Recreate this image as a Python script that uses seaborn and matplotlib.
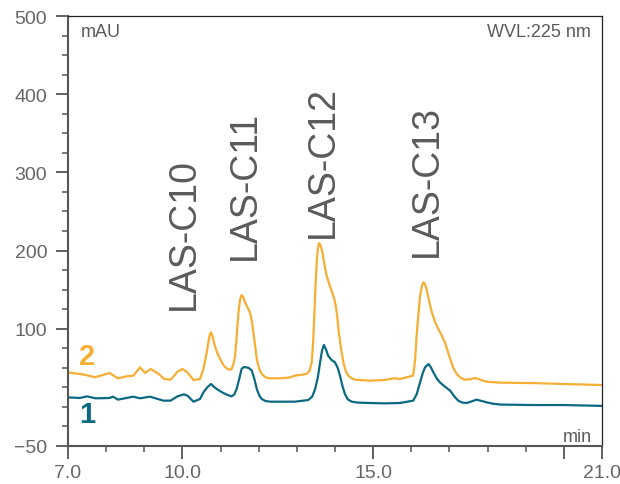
import matplotlib
matplotlib.use("Agg")
import matplotlib.pyplot as plt
from matplotlib.ticker import MultipleLocator, FixedLocator, FixedFormatter
import seaborn as sns
import pandas as pd

# Retention time (min) and absorbance (mAU) of the two chromatograms
time_2 = [7.00, 7.31, 7.48, 7.70, 7.92, 8.09, 8.31, 8.53, 8.71, 8.89, 9.02, 9.17,
          9.38, 9.52, 9.69, 9.87, 10.00, 10.13, 10.29, 10.46,
          10.55, 10.62, 10.68, 10.72, 10.75, 10.79, 10.85, 10.92, 10.99, 11.08,
          11.16, 11.24, 11.29, 11.34, 11.38, 11.43, 11.47, 11.51, 11.55, 11.59,
          11.64, 11.70, 11.77, 11.82, 11.86, 11.91, 11.95, 12.01, 12.08, 12.16,
          12.25, 12.56, 12.80, 12.95,
          13.26, 13.34, 13.39, 13.43, 13.46, 13.49, 13.52, 13.55, 13.58, 13.62,
          13.67, 13.72, 13.78, 13.85, 13.91, 13.97, 14.02, 14.06, 14.09, 14.15,
          14.22, 14.28, 14.35, 14.44, 14.53, 14.92, 15.30, 15.55, 15.70,
          16.05, 16.10, 16.14, 16.19, 16.23, 16.28, 16.32, 16.36, 16.40, 16.47,
          16.54, 16.62, 16.71, 16.80, 16.88, 16.95, 17.02, 17.10, 17.19, 17.30,
          17.41, 17.55, 17.65, 17.71, 17.85, 17.98, 18.33, 19.20, 20.00, 21.00]
mau_2 = [44.2, 42.1, 40.8, 37.9, 40.8, 43.4, 36.6, 39.1, 39.9, 50.6, 43.4, 48.5,
         42.1, 35.7, 34.8, 45.0, 48.5, 44.2, 34.4, 35.7,
         48.5, 65.0, 82.6, 93.0, 95.4, 90.0, 78.0, 68.0, 61.3, 53.0,
         49.3, 47.5, 48.5, 55.0, 65.5, 95.0, 121.0, 137.0, 143.1, 141.0,
         133.8, 128.0, 121.0, 110.0, 95.4, 77.0, 61.3, 49.0, 42.1, 38.5,
         36.6, 36.6, 37.5, 40.0,
         42.1, 47.0, 57.0, 85.0, 121.0, 155.0, 185.0, 202.0, 209.6, 207.0,
         197.6, 183.0, 167.8, 157.0, 148.6, 140.0, 129.5, 115.0, 99.6, 77.0,
         57.0, 46.0, 40.0, 36.5, 34.8, 33.5, 34.5, 36.6, 35.7,
         40.0, 60.0, 91.0, 120.0, 142.0, 155.0, 159.4, 157.0, 150.8, 135.0,
         121.0, 109.0, 99.6, 91.0, 82.6, 72.0, 61.3, 50.0, 42.1, 37.0,
         34.8, 35.5, 36.7, 36.6, 34.0, 32.2, 31.0, 30.5, 29.3, 28.0]

time_1 = [7.00, 7.31, 7.50, 7.72, 8.09, 8.18, 8.31, 8.71, 8.89, 9.15, 9.50, 9.69,
          9.87, 10.04, 10.13, 10.29, 10.46,
          10.55, 10.65, 10.75, 10.82, 10.90, 11.07, 11.20, 11.29, 11.36, 11.42,
          11.49, 11.55, 11.61, 11.68, 11.75, 11.82, 11.89, 11.95, 12.02, 12.08,
          12.18, 12.30, 12.56, 12.95,
          13.30, 13.40, 13.48, 13.55, 13.61, 13.66, 13.71, 13.76, 13.82, 13.91,
          14.00, 14.07, 14.13, 14.20, 14.26, 14.34, 14.44, 14.60, 14.92, 15.30,
          15.70, 16.05, 16.14, 16.23, 16.30, 16.36, 16.45, 16.51, 16.58, 16.66,
          16.75, 16.88, 17.02, 17.12, 17.23, 17.34, 17.45, 17.58, 17.71, 17.85,
          17.98, 18.15, 18.33, 19.20, 20.00, 21.00]
mau_1 = [12.2, 11.4, 13.5, 11.0, 11.4, 13.1, 9.3, 13.1, 11.0, 13.1, 8.0, 8.0,
         13.5, 16.1, 14.4, 6.7, 10.1,
         18.7, 25.0, 29.3, 26.0, 22.9, 17.8, 15.0, 13.5, 16.0, 22.9,
         36.0, 48.5, 51.0, 50.6, 49.5, 46.3, 35.0, 22.9, 14.0, 10.1,
         7.5, 6.7, 6.7, 6.7,
         8.8, 13.0, 22.9, 38.0, 57.0, 72.0, 79.2, 74.0, 65.5, 60.0,
         57.0, 50.0, 40.0, 26.0, 16.5, 9.5, 6.7, 5.5, 5.0, 4.5,
         5.0, 8.0, 16.0, 31.4, 43.0, 50.6, 54.9, 51.0, 44.2, 37.0,
         31.4, 26.0, 20.7, 14.0, 8.0, 5.5, 5.0, 7.0, 9.3, 7.5,
         5.8, 4.0, 3.0, 2.4, 2.4, 1.3]

# Peak annotations: name, retention time, label base (mAU)
peak_names = ["LAS-C10", "LAS-C11", "LAS-C12", "LAS-C13"]
peak_times = [10.03, 11.63, 13.67, 16.42]
peak_label_y = [125, 189, 217, 193]

x_major = [7.0, 10.0, 15.0, 20.0, 21.0]
x_major_labels = ["7.0", "10.0", "15.0", "", "21.0"]
y_major = [-50, 100, 200, 300, 400, 500]

ORANGE = "#F7AE34"
TEAL = "#0B6982"
TEXT = "#5b5b5b"
AXIS = "#555555"

sns.set_theme(style="ticks")
plt.rcParams["font.family"] = ["Liberation Sans", "DejaVu Sans"]

fig = plt.figure(figsize=(6.2, 4.85), dpi=100)
ax = fig.add_axes([68 / 620, 38 / 485, 534 / 620, 430 / 485])

df2 = pd.DataFrame({"time": time_2, "mau": mau_2})
df1 = pd.DataFrame({"time": time_1, "mau": mau_1})
sns.lineplot(data=df2, x="time", y="mau", color=ORANGE, lw=1.6, ax=ax,
             solid_joinstyle="round", solid_capstyle="round")
sns.lineplot(data=df1, x="time", y="mau", color=TEAL, lw=1.6, ax=ax,
             solid_joinstyle="round", solid_capstyle="round")

ax.set_xlim(7.0, 21.0)
ax.set_ylim(-50, 500)
ax.set_xlabel("")
ax.set_ylabel("")

ax.xaxis.set_major_locator(FixedLocator(x_major))
ax.xaxis.set_major_formatter(FixedFormatter(x_major_labels))
ax.xaxis.set_minor_locator(MultipleLocator(1.0))
ax.yaxis.set_major_locator(FixedLocator(y_major))
ax.yaxis.set_minor_locator(MultipleLocator(25))

ax.tick_params(axis="both", which="major", direction="out", length=9, width=1.3,
               color=AXIS, labelcolor="#666666", labelsize=14, pad=4)
ax.tick_params(axis="both", which="minor", direction="out", length=4, width=1.1,
               color=AXIS)
ax.tick_params(axis="y", which="major", pad=6)

for side in ("left", "bottom"):
    ax.spines[side].set_color(AXIS)
    ax.spines[side].set_linewidth(1.5)
for side in ("top", "right"):
    ax.spines[side].set_color("#222222")
    ax.spines[side].set_linewidth(0.9)

ax.text(0.024, 0.983, "mAU", transform=ax.transAxes, ha="left", va="top",
        fontsize=13, color=TEXT)
ax.text(0.979, 0.983, "WVL:225 nm", transform=ax.transAxes, ha="right", va="top",
        fontsize=13, color=TEXT)
ax.text(0.981, 0.012, "min", transform=ax.transAxes, ha="right", va="baseline",
        fontsize=13, color=TEXT)

for name, t, y in zip(peak_names, peak_times, peak_label_y):
    ax.text(t, y, name, rotation=90, ha="center", va="bottom", fontsize=27,
            color=TEXT)

ax.text(7.5, 65, "2", ha="center", va="center", fontsize=21, fontweight="bold",
        color=ORANGE)
ax.text(7.5, -9, "1", ha="center", va="center", fontsize=21, fontweight="bold",
        color=TEAL)

fig.savefig("out.png", dpi=100)
